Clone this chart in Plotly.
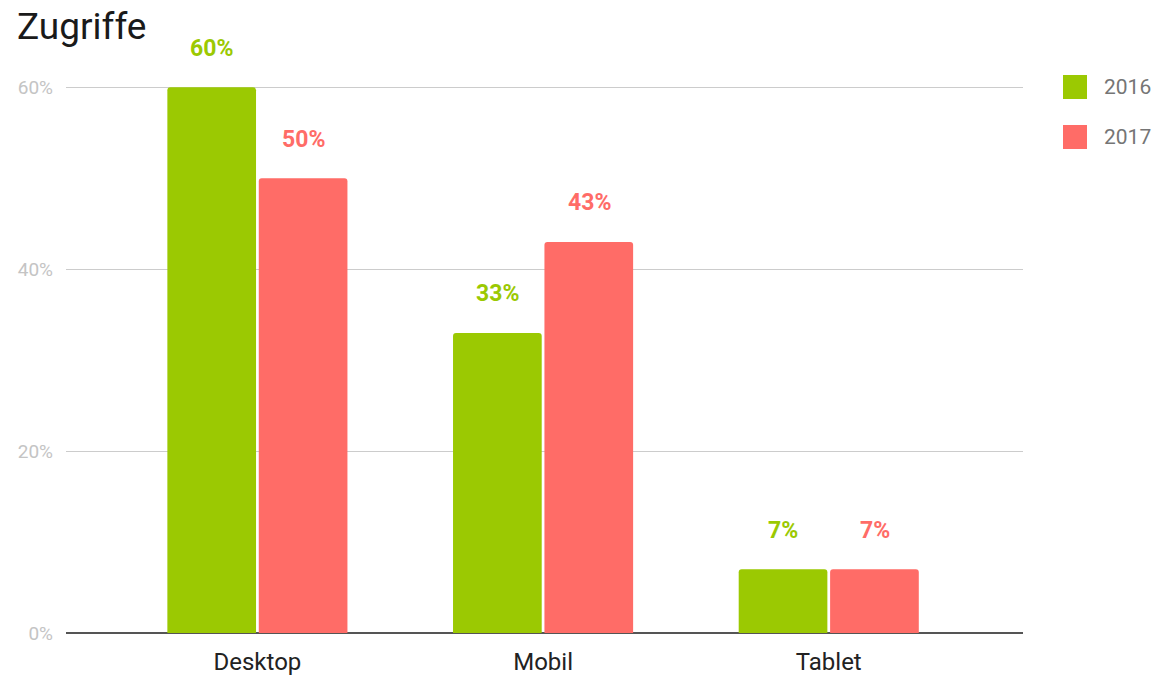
import plotly.graph_objects as go

categories = ["Desktop", "Mobil", "Tablet"]
series_names = ["2016", "2017"]
values_2016 = [0.60, 0.33, 0.07]
values_2017 = [0.50, 0.43, 0.07]
colors = ["#9BC902", "#FF6C67"]
y_ticks = [0, 0.2, 0.4, 0.6]
y_tick_labels = ["0%", "20%", "40%", "60%"]

W, H = 1155, 675
L, R, T, B = 66, 132, 86, 42

fig = go.Figure()
for name, vals, col in zip(series_names, [values_2016, values_2017], colors):
    fig.add_trace(go.Bar(
        name=name, x=categories, y=vals, marker=dict(color=col, cornerradius=3, line=dict(width=0)),
        showlegend=False, hoverinfo="x+y", cliponaxis=False,
    ))

# value labels
offsets = [-46, 46]
for vals, col, dx in zip([values_2016, values_2017], colors, offsets):
    for c, v in zip(categories, vals):
        fig.add_annotation(x=c, y=v, text=f"<b>{v:.0%}</b>", showarrow=False,
                           xshift=dx, yshift=39, yanchor="middle",
                           font=dict(family="Roboto", size=23, color=col))

# manual legend
pw, ph = W - L - R, H - T - B
for i, (name, col) in enumerate(zip(series_names, colors)):
    yc = 87 + i * 50
    fig.add_shape(type="rect", xref="paper", yref="paper",
                  x0=(1063 - L) / pw, x1=(1087 - L) / pw,
                  y0=(H - B - (yc + 12)) / ph, y1=(H - B - (yc - 12)) / ph,
                  fillcolor=col, line=dict(width=0), layer="above")
    fig.add_annotation(xref="paper", yref="paper", x=(1102 - L) / pw,
                       y=(H - B - yc) / ph, text=name, showarrow=False,
                       xanchor="left", yanchor="middle",
                       font=dict(family="Roboto", size=21, color="#757575"))

fig.update_layout(
    width=W, height=H,
    margin=dict(l=L, r=R, t=T, b=B, autoexpand=False),
    paper_bgcolor="white", plot_bgcolor="white",
    barmode="group", bargap=0.36, bargroupgap=0.03,
    title=dict(text="Zugriffe", x=17 / W, xref="container", xanchor="left",
               y=1 - 26 / H, yref="container", yanchor="middle",
               font=dict(family="Roboto", size=37, color="#1a1a1a")),
    font=dict(family="Roboto"),
    showlegend=False,
)
fig.update_xaxes(range=[-0.67, 2.68], showgrid=False, ticks="", showline=False,
                 tickfont=dict(family="Roboto", size=24, color="#222222"),
                 ticklabelstandoff=12, automargin=False)
fig.update_yaxes(range=[0, 0.6015], tickvals=y_ticks, ticktext=y_tick_labels,
                 showgrid=True, gridcolor="#cccccc", gridwidth=1,
                 zeroline=True, zerolinecolor="#555555", zerolinewidth=2,
                 tickfont=dict(family="Roboto", size=19, color="#c4c4c4"),
                 ticklabelstandoff=12, showline=False, automargin=False)

fig.write_html("out.html", config={"displayModeBar": False},
               post_script="document.body.style.margin='0';")
